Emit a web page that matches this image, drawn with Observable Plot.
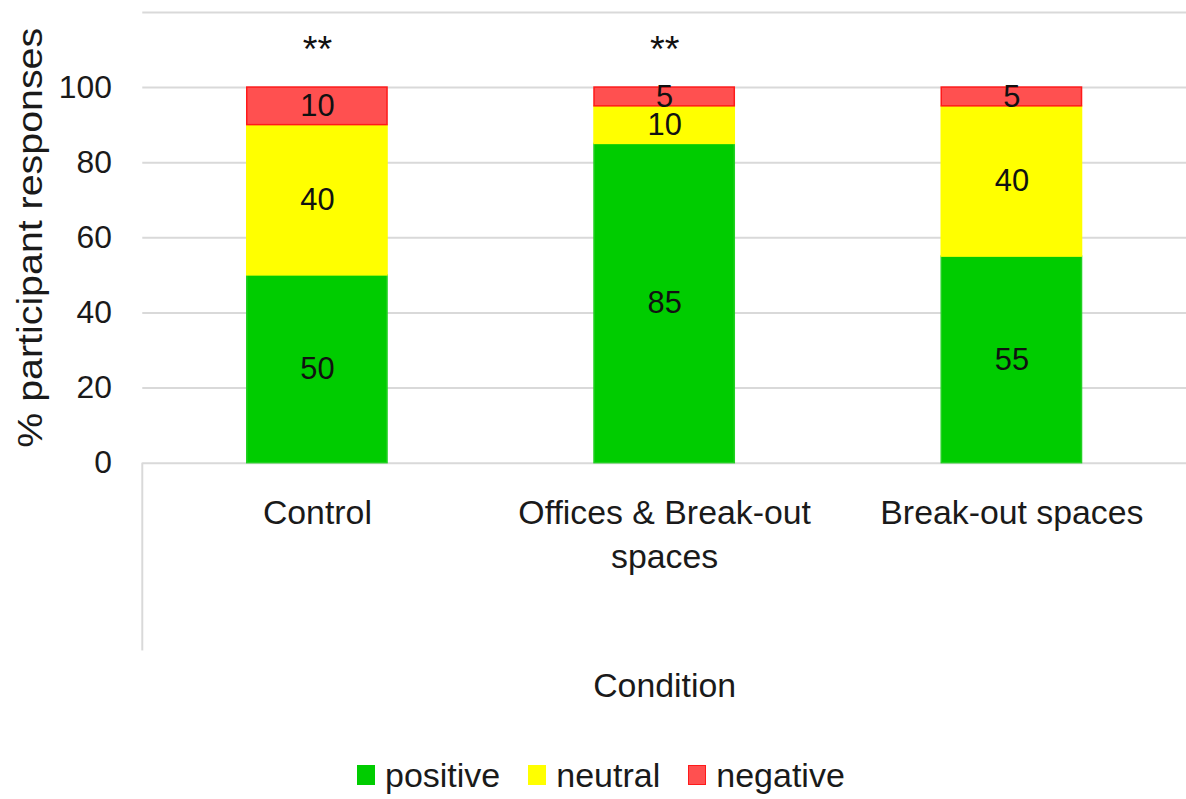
<!DOCTYPE html>
<html>
<head>
<meta charset="utf-8">
<script src="https://cdn.jsdelivr.net/npm/d3@7"></script>
<script src="https://cdn.jsdelivr.net/npm/@observablehq/plot@0.6"></script>
<style>
  html, body { margin: 0; padding: 0; background: #fff; overflow: hidden; }
  body { font-family: "Liberation Sans", Arial, sans-serif; color: #1a1a1a; width: 1186px; }
  #chart svg { display: block; }
  .legend { display: flex; align-items: center; height: 54px; margin-top: 7px; padding-left: 357px; font-size: 34px; }
  .legend .item { display: flex; align-items: center; margin-right: 28px; }
  .legend .sw { width: 18px; height: 20px; margin-right: 10px; box-sizing: border-box; }
</style>
</head>
<body>
<div id="chart"></div>
<div class="legend" id="legend"></div>
<script>
const conditions = ["Control", "Offices & Break-out spaces", "Break-out spaces"];
const conditionLabels = ["Control", "Offices & Break-out\nspaces", "Break-out spaces"];
const seriesNames = ["positive", "neutral", "negative"];
const positive = [50, 85, 55];
const neutral = [40, 10, 40];
const negative = [10, 5, 5];
const significance = ["**", "**", ""];
const yTicks = [0, 20, 40, 60, 80, 100];
const gridTicks = [0, 20, 40, 60, 80, 100, 120];

const fills = {positive: "#00cc00", neutral: "#ffff00", negative: "#ff5050"};
const strokes = {positive: "#22d022", neutral: "#ffff00", negative: "#ff1a1a"};

const seriesValues = {positive, neutral, negative};
const rows = [];
conditions.forEach((c, i) => {
  seriesNames.forEach(s => rows.push({condition: c, series: s, value: seriesValues[s][i]}));
});
const sigRows = conditions.map((c, i) => ({condition: c, text: significance[i]})).filter(d => d.text);
const labelOf = new Map(conditions.map((c, i) => [c, conditionLabels[i]]));

const leftBorder = (index, scales, values, dims) => {
  const line = d3.create("svg:line")
    .attr("x1", dims.marginLeft).attr("x2", dims.marginLeft)
    .attr("y1", scales.y(0)).attr("y2", scales.y(-50))
    .attr("stroke", "#d9d9d9").attr("stroke-width", 2);
  return line.node();
};

const chart = Plot.plot({
  width: 1192,
  height: 745,
  marginLeft: 143,
  marginRight: 0,
  marginTop: 12,
  marginBottom: 280,
  style: {fontFamily: "'Liberation Sans', Arial, sans-serif", color: "#1a1a1a", background: "#fff", overflow: "visible"},
  x: {domain: conditions, paddingInner: 0.597, paddingOuter: 0.2985},
  y: {domain: [0, 120]},
  marks: [
    Plot.gridY(gridTicks, {stroke: "#d9d9d9", strokeOpacity: 1, strokeWidth: 2}),
    leftBorder,
    Plot.barY(rows, Plot.stackY({
      x: "condition", y: "value", z: "series",
      fill: d => fills[d.series], stroke: d => strokes[d.series], strokeWidth: 1.5
    })),
    Plot.text(rows, Plot.stackY({
      x: "condition", y: "value", z: "series",
      text: d => String(d.value), fontSize: 31, fill: "#111"
    })),
    Plot.text(sigRows, {x: "condition", y: 110, text: "text", fontSize: 38, fill: "#111"}),
    Plot.axisY(yTicks, {tickSize: 0, tickPadding: 31, fontSize: 32, label: null}),
    Plot.axisX({tickSize: 0, tickPadding: 29, fontSize: 34, label: null, lineHeight: 1.32,
      tickFormat: d => labelOf.get(d)}),
    Plot.text(["Condition"], {frameAnchor: "bottom", dy: 235, fontSize: 34, fill: "#1a1a1a"}),
    Plot.text(["% participant responses"], {frameAnchor: "left", dx: -113, rotate: -90,
      textAnchor: "middle", fontSize: 35, fill: "#1a1a1a", className: "ylabel"})
  ]
});
document.getElementById("chart").appendChild(chart);

// stretch y-axis title to the reference's length
const yl = chart.querySelector(".ylabel text") || chart.querySelector("g.ylabel");
if (yl && yl.tagName.toLowerCase() === "text") { yl.setAttribute("textLength", 422); yl.setAttribute("lengthAdjust", "spacingAndGlyphs"); }

const legend = document.getElementById("legend");
seriesNames.forEach(s => {
  const item = document.createElement("div");
  item.className = "item";
  const sw = document.createElement("div");
  sw.className = "sw";
  sw.style.background = fills[s];
  if (s === "negative") sw.style.border = "1.5px solid #ff1a1a";
  const t = document.createElement("span");
  t.textContent = s;
  item.appendChild(sw); item.appendChild(t);
  legend.appendChild(item);
});
</script>
</body>
</html>
